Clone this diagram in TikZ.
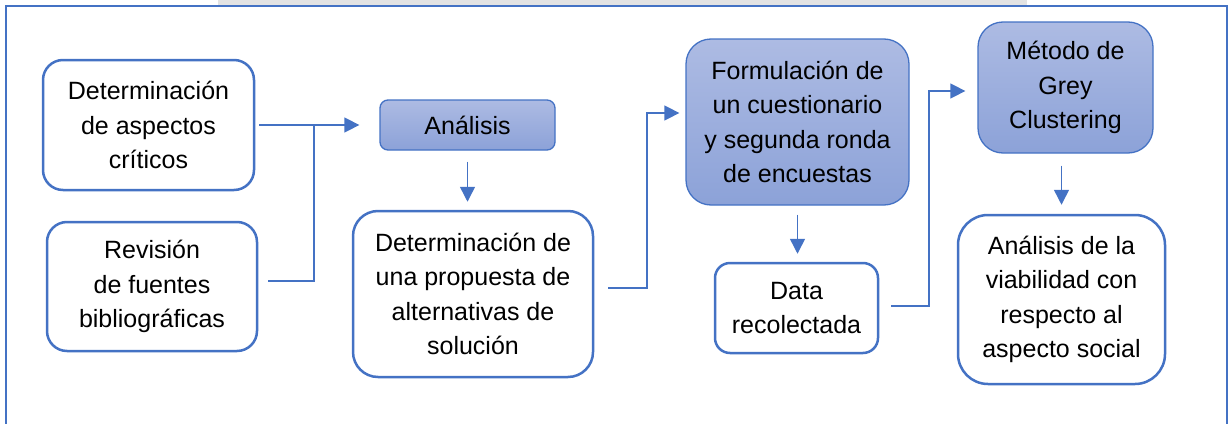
\documentclass[tikz,border=0pt]{standalone}
\usepackage{fontspec}
\setmainfont{Liberation Sans}
\usetikzlibrary{arrows.meta}
\definecolor{bord}{HTML}{4472C4}
\definecolor{gtop}{HTML}{ADBBE3}
\definecolor{gbot}{HTML}{8CA2D8}
\tikzset{
  box/.style={draw=bord, line width=2.5pt, fill=white, align=center, inner sep=0pt,
    font=\fontsize{25pt}{34.5pt}\selectfont},
  sbox/.style={draw=bord, line width=1.3pt, top color=gtop, bottom color=gbot, align=center, inner sep=0pt,
    font=\fontsize{25pt}{34.5pt}\selectfont},
  conn/.style={draw=bord, line width=1.5pt, -{Triangle[length=15pt,width=15pt]}},
  plain/.style={draw=bord, line width=1.5pt}
}
\begin{document}
\begin{tikzpicture}[x=1pt,y=-1pt]
\useasboundingbox (0,0) rectangle (1231,423);
% faint band at the top
\fill[gray!22] (218,0) rectangle (1027,5);
% outer frame
\draw[bord, line width=2.5pt] (6,430) -- (6,6) -- (1227,6) -- (1227,430);

\node[box, rounded corners=20pt, minimum width=211pt, minimum height=130pt] (b1) at (148.5,125)
  {Determinación\\de aspectos\\críticos};
\node[box, rounded corners=20pt, minimum width=210pt, minimum height=129pt] (b2) at (152,286.5)
  {Revisión\\de fuentes\\bibliográficas};
\node[sbox, rounded corners=8pt, minimum width=175pt, minimum height=50pt] (ana) at (467.5,125)
  {Análisis};
\node[box, rounded corners=25pt, minimum width=240pt, minimum height=166pt] (b4) at (473,294)
  {Determinación de\\una propuesta de\\alternativas de\\solución};
\node[sbox, rounded corners=25pt, minimum width=223pt, minimum height=166pt] (b5) at (797.5,122)
  {Formulación de\\un cuestionario\\y segunda ronda\\de encuestas};
\node[box, rounded corners=15pt, minimum width=163pt, minimum height=90pt] (b6) at (796.5,308)
  {Data\\recolectada};
\node[sbox, rounded corners=25pt, minimum width=175pt, minimum height=131pt] (b7) at (1065.5,87.5)
  {Método de\\Grey\\Clustering};
\node[box, rounded corners=30pt, minimum width=207pt, minimum height=169pt] (b8) at (1061.5,299.5)
  {Análisis de la\\viabilidad con\\respecto al\\aspecto social};

% connectors
\coordinate (j1) at (314,125);
\draw[conn, shorten <=4pt, shorten >=20pt] (b1.east) -- (ana.west);
\draw[plain, shorten <=10pt] ([yshift=5.5pt]b2.east) -| (j1);
\draw[conn, shorten <=11pt, shorten >=8pt] (ana.south) -- (ana.south |- b4.north);
\draw[conn, shorten <=14pt, shorten >=6pt] ([yshift=6pt]b4.east) -| (647,113) -- ([yshift=9pt]b5.west);
\draw[conn, shorten <=9pt, shorten >=8pt] (b5.south) -- (b5.south |- b6.north);
\draw[conn, shorten <=12pt, shorten >=12pt] ([yshift=2pt]b6.east) -| (929,91) -- ([yshift=-3.5pt]b7.west);
\draw[conn, shorten <=12pt, shorten >=9pt] (b8.north |- b7.south) -- (b8.north);
\end{tikzpicture}
\end{document}
